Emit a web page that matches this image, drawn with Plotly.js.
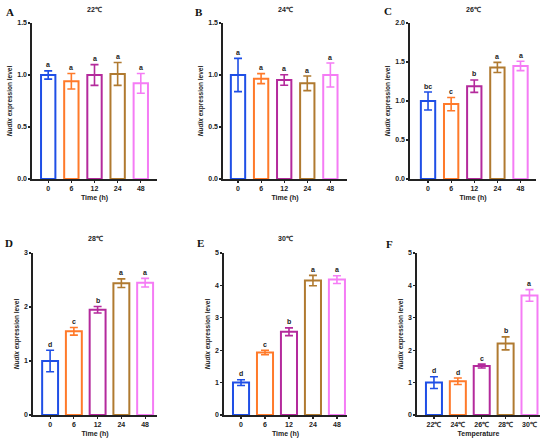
<!DOCTYPE html>
<html>
<head>
<meta charset="utf-8">
<script src="https://cdn.plot.ly/plotly-3.0.1.min.js"></script>
<style>html,body{margin:0;padding:0;background:#fff}#chart{width:550px;height:442px}</style>
</head>
<body>
<div id="chart"></div>
<script>
// ---- data ----
const timeCats = ["0", "6", "12", "24", "48"];
const tempCats = ["22℃", "24℃", "26℃", "28℃", "30℃"];

const meanA = [1.00, 0.94, 1.00, 1.01, 0.92];
const errA  = [0.04, 0.075, 0.10, 0.11, 0.095];
const sigA  = ["a", "a", "a", "a", "a"];

const meanB = [1.00, 0.965, 0.952, 0.92, 1.00];
const errB  = [0.16, 0.048, 0.05, 0.07, 0.115];
const sigB  = ["a", "a", "a", "a", "a"];

const meanC = [1.00, 0.96, 1.19, 1.43, 1.45];
const errC  = [0.115, 0.085, 0.08, 0.065, 0.06];
const sigC  = ["bc", "c", "b", "a", "a"];

const meanD = [1.00, 1.55, 1.95, 2.44, 2.45];
const errD  = [0.20, 0.07, 0.06, 0.08, 0.08];
const sigD  = ["d", "c", "b", "a", "a"];

const meanE = [1.00, 1.93, 2.57, 4.15, 4.18];
const errE  = [0.09, 0.07, 0.12, 0.16, 0.12];
const sigE  = ["d", "c", "b", "a", "a"];

const meanF = [1.00, 1.04, 1.51, 2.21, 3.69];
const errF  = [0.18, 0.10, 0.06, 0.20, 0.18];
const sigF  = ["d", "d", "c", "b", "a"];

const panelLetters = ["A", "B", "C", "D", "E", "F"];
const panelTitles = ["22℃", "24℃", "26℃", "28℃", "30℃", ""];
const xTitles = ["Time (h)", "Time (h)", "Time (h)", "Time (h)", "Time (h)", "Temperature"];
const yMax = [1.5, 1.5, 2.0, 3, 5, 5];
const yDtick = [0.5, 0.5, 0.5, 1, 1, 1];

// ---- styling ----
const colors = ["#1f4fe6", "#ff7a2a", "#b42a9c", "#b07a30", "#f57cf5"];
const panels = [
  {m: meanA, e: errA, s: sigA, c: timeCats},
  {m: meanB, e: errB, s: sigB, c: timeCats},
  {m: meanC, e: errC, s: sigC, c: timeCats},
  {m: meanD, e: errD, s: sigD, c: timeCats},
  {m: meanE, e: errE, s: sigE, c: timeCats},
  {m: meanF, e: errF, s: sigF, c: tempCats}
];
const W = 550, H = 442;
// pixel boxes [x0, x1, yTop, yBottom]
const boxes = [
  [32, 157, 23, 179], [223, 347, 23, 179], [410, 536, 23, 179],
  [33, 157, 253, 415], [224, 347, 253, 415], [417, 540, 253, 415]
];
const xRanges = [[-0.7, 4.7], [-0.65, 4.72], [-0.78, 4.67], [-0.72, 4.5], [-0.71, 4.42], [-0.71, 4.44]];
const barW = [0.62, 0.62, 0.62, 0.67, 0.67, 0.67];
const letterPos = [[10, 12], [199, 12], [388, 11], [9, 243], [200, 243], [389, 244]];

const font = "Liberation Sans, Arial, sans-serif";
const data = [];
const annotations = [];
const layout = {
  width: W, height: H,
  margin: {l: 0, r: 0, t: 0, b: 0},
  paper_bgcolor: "#fff", plot_bgcolor: "#fff",
  showlegend: false,
  barmode: "overlay",
  font: {family: font, color: "#222", size: 7}
};

panels.forEach((p, i) => {
  const n = i + 1;
  const xa = "x" + (n === 1 ? "" : n), ya = "y" + (n === 1 ? "" : n);
  const b = boxes[i];
  p.c.forEach((cat, j) => {
    data.push({
      type: "bar", x: [cat], y: [p.m[j]], xaxis: xa, yaxis: ya,
      width: barW[i],
      marker: {color: "rgba(255,255,255,1)", line: {color: colors[j], width: 2}},
      error_y: {type: "data", array: [p.e[j]], visible: true, color: colors[j], thickness: 1.6, width: 4},
      hoverinfo: "x+y"
    });
    // category index position of this bar on the category axis
    annotations.push({
      xref: xa, yref: ya, x: p.c.indexOf(cat), y: p.m[j] + p.e[j], yshift: 6,
      text: "<b>" + p.s[j] + "</b>", showarrow: false,
      font: {family: font, size: 7, color: "#222"}
    });
  });
  const axKey = "xaxis" + (n === 1 ? "" : n), ayKey = "yaxis" + (n === 1 ? "" : n);
  layout[axKey] = {
    domain: [b[0] / W, b[1] / W], anchor: ya, type: "category",
    categoryarray: p.c, categoryorder: "array",
    range: xRanges[i], showgrid: false, zeroline: false,
    showline: true, linecolor: "#222", linewidth: 1.6,
    ticks: "outside", ticklen: 2, tickwidth: 1.2, tickcolor: "#222",
    tickfont: {family: font, size: 7, color: "#222", weight: "bold"},
    title: {text: "<b>" + xTitles[i] + "</b>", standoff: 4, font: {family: font, size: 7, color: "#222"}},
    automargin: false, fixedrange: true
  };
  layout[ayKey] = {
    domain: [1 - b[3] / H, 1 - b[2] / H], anchor: xa,
    range: [0, yMax[i]], dtick: yDtick[i], tick0: 0,
    tickformat: yDtick[i] < 1 ? ".1f" : "d",
    showgrid: false, zeroline: false,
    showline: true, linecolor: "#222", linewidth: 1.6,
    ticks: "outside", ticklen: 2, tickwidth: 1.2, tickcolor: "#222",
    tickfont: {family: font, size: 7, color: "#222", weight: "bold"},
    title: {text: "<b><i>Nudix</i> expression level</b>", standoff: 4, font: {family: font, size: 6.5, color: "#222"}},
    automargin: false, fixedrange: true
  };
  if (panelTitles[i]) {
    annotations.push({
      xref: "paper", yref: "paper",
      x: (b[0] + b[1]) / 2 / W, y: 1 - (i < 3 ? 9 : 239) / H,
      text: "<b>" + panelTitles[i] + "</b>", showarrow: false,
      xanchor: "center", yanchor: "middle",
      font: {family: font, size: 7, color: "#222"}
    });
  }
  annotations.push({
    xref: "paper", yref: "paper",
    x: letterPos[i][0] / W, y: 1 - letterPos[i][1] / H,
    text: "<b>" + panelLetters[i] + "</b>", showarrow: false,
    xanchor: "center", yanchor: "middle",
    font: {family: "Liberation Serif, Times New Roman, serif", size: 11, color: "#111"}
  });
});
layout.annotations = annotations;

Plotly.newPlot("chart", data, layout, {displayModeBar: false, staticPlot: true});
</script>
</body>
</html>
